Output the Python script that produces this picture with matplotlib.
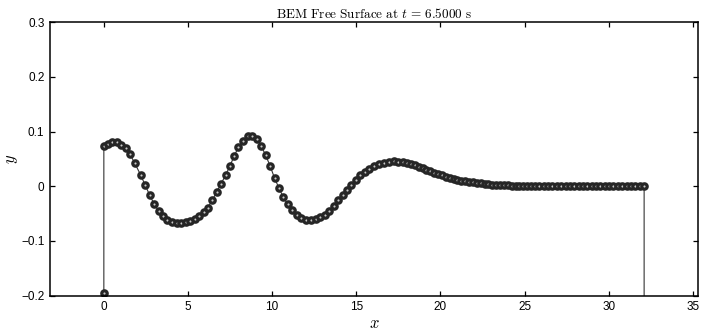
import matplotlib
matplotlib.use("Agg")
import matplotlib.pyplot as plt

plt.rcParams["mathtext.fontset"] = "cm"
plt.rcParams["font.family"] = ["Liberation Sans", "DejaVu Sans"]

# Free-surface node positions (x) and elevations (y) at t = 6.5 s
x_nodes = [
    0.00, 0.00, 0.26, 0.51, 0.78, 1.04, 1.30, 1.56, 1.84, 2.18, 2.44, 2.72,
    2.98, 3.25, 3.51, 3.78, 4.05, 4.32, 4.59, 4.86, 5.13, 5.40, 5.66, 5.93,
    6.18, 6.43, 6.70, 6.96, 7.23, 7.49, 7.74, 7.99, 8.27, 8.54, 8.81, 9.07,
    9.34, 9.61, 9.88, 10.14, 10.40, 10.66, 10.92, 11.20, 11.47, 11.74, 12.02,
    12.30, 12.58, 12.85, 13.12, 13.39, 13.66, 13.92, 14.18, 14.44, 14.70,
    14.96, 15.23, 15.50, 15.78, 16.06, 16.34, 16.63, 16.92, 17.21, 17.50,
    17.79, 18.02, 18.25, 18.48, 18.71, 18.94, 19.17, 19.40, 19.63, 19.86,
    20.09, 20.32, 20.55, 20.78, 21.01, 21.24, 21.47, 21.70, 21.93, 22.16,
    22.39, 22.62, 22.85, 23.08, 23.31, 23.54, 23.77, 24.00, 24.23, 24.46,
    24.69, 24.92, 25.15, 25.38, 25.61, 25.87, 26.13, 26.39, 26.65, 26.91,
    27.17, 27.43, 27.69, 27.95, 28.21, 28.47, 28.72, 28.98, 29.24, 29.50,
    29.76, 30.02, 30.28, 30.54, 30.80, 31.06, 31.32, 31.58, 31.84, 32.10,
    32.10,
]
y_nodes = [
    -0.195, 0.073, 0.078, 0.081, 0.080, 0.076, 0.069, 0.058, 0.042, 0.021, 0.003, -0.016,
    -0.032, -0.045, -0.055, -0.061, -0.065, -0.067, -0.067, -0.066, -0.063, -0.059, -0.054, -0.047,
    -0.039, -0.026, -0.011, 0.004, 0.020, 0.037, 0.055, 0.071, 0.083, 0.091, 0.092, 0.087,
    0.074, 0.057, 0.037, 0.015, -0.003, -0.020, -0.033, -0.044, -0.052, -0.058, -0.061,
    -0.062, -0.060, -0.057, -0.052, -0.045, -0.036, -0.026, -0.016, -0.006, 0.003,
    0.012, 0.020, 0.026, 0.032, 0.037, 0.040, 0.043, 0.045, 0.046, 0.045,
    0.044, 0.042, 0.040, 0.038, 0.036, 0.033, 0.030, 0.027, 0.024, 0.022,
    0.020, 0.017, 0.015, 0.013, 0.012, 0.010, 0.009, 0.008, 0.007, 0.006,
    0.005, 0.004, 0.004, 0.003, 0.003, 0.002, 0.002, 0.002, 0.001, 0.001,
    0.001, 0.001, 0.001, 0.001, 0.000, 0.000, 0.000, 0.000, 0.000, 0.000,
    0.000, 0.000, 0.000, 0.000, 0.000, 0.000, 0.000, 0.000, 0.000, 0.000,
    0.000, 0.000, 0.000, 0.000, 0.000, 0.000, 0.000, 0.000, 0.000, 0.000,
    -0.260,
]

x_ticks = [0, 5, 10, 15, 20, 25, 30, 35]
y_ticks = [-0.2, -0.1, 0.0, 0.1, 0.2, 0.3]
y_tick_labels = ["\u22120.2", "\u22120.1", "0", "0.1", "0.2", "0.3"]

fig = plt.figure(figsize=(7.01, 3.34), dpi=100)
ax = fig.add_axes([0.0713, 0.1147, 0.9244, 0.8193])

ax.plot(x_nodes, y_nodes, color="#333333", lw=0.8, marker="o",
        ms=3.9, mew=2.3, mec="#262626", mfc="#c8c8c8", clip_on=True)

ax.set_xlim(-3.2, 35.3)
ax.set_ylim(-0.2, 0.3)
ax.set_xticks(x_ticks)
ax.set_yticks(y_ticks)
ax.set_yticklabels(y_tick_labels)
ax.tick_params(direction="in", top=True, right=True, length=3.5,
               width=0.9, labelsize=8.5, pad=4)
for s in ax.spines.values():
    s.set_linewidth(1.1)

ax.set_xlabel(r"$x$", fontsize=12, labelpad=2)
ax.set_ylabel(r"$y$", fontsize=12, labelpad=1)
ax.set_title(r"$\mathrm{BEM\ Free\ Surface\ at\ }t\,=\,6.5000\mathrm{\ s}$",
             fontsize=9.5, pad=3)

fig.savefig("out.png", dpi=100)
